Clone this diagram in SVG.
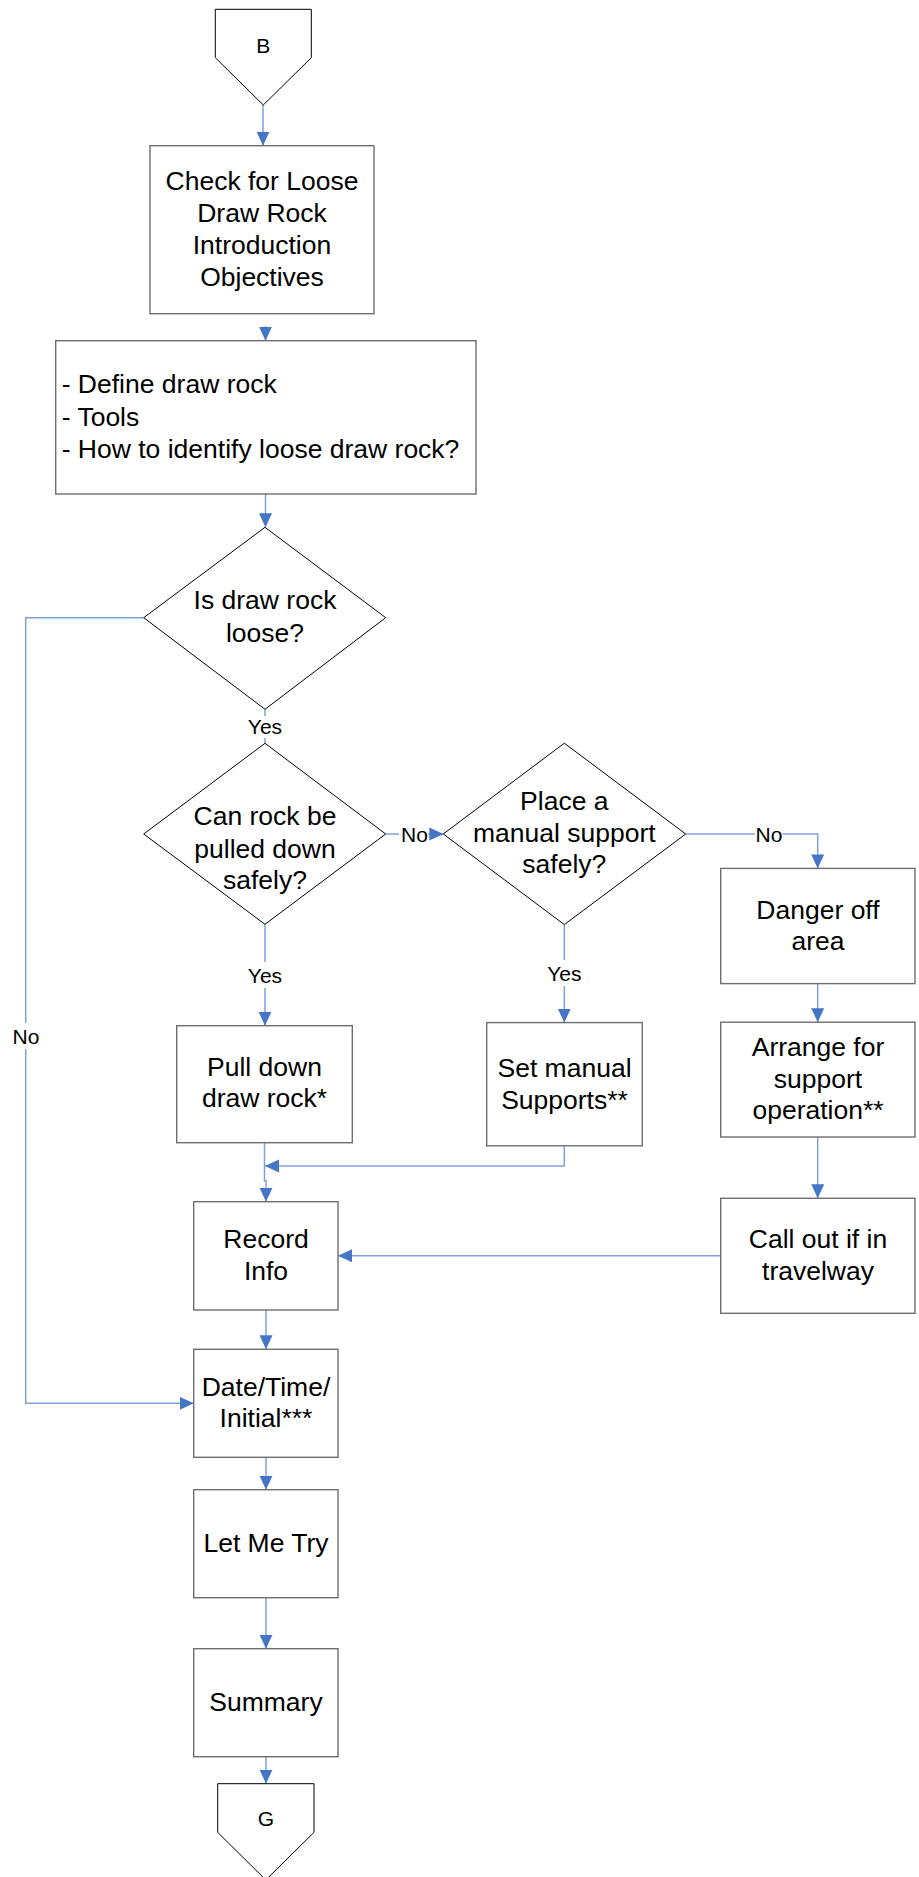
<svg xmlns="http://www.w3.org/2000/svg" width="919" height="1877" viewBox="0 0 919 1877">
<style>
.box{fill:#fff;stroke:#6e6e6e;stroke-width:1.4}
.dia{fill:#fff;stroke:#000;stroke-width:1}
.t{font-family:"Liberation Sans",Arial,sans-serif;font-size:26.5px;fill:#000;text-anchor:middle}
.tl{font-family:"Liberation Sans",Arial,sans-serif;font-size:26.5px;fill:#000}
.s{font-family:"Liberation Sans",Arial,sans-serif;font-size:21px;fill:#000;text-anchor:middle}
.c{fill:none;stroke:#7ea1d8;stroke-width:1.5}
.ca{fill:none;stroke:#7ea1d8;stroke-width:1.5;marker-end:url(#arr)}
</style>
<defs>
<marker id="arr" markerWidth="14" markerHeight="14" refX="14" refY="7" orient="auto" markerUnits="userSpaceOnUse">
<path d="M0,0.5 L14,7 L0,13.5 Z" fill="#4576c6"/>
</marker>
</defs>
<rect width="919" height="1877" fill="#fff"/>
<g id="connectors">
<path class="ca" d="M263,105 V145.7"/>
<path class="ca" d="M265.5,326 V340.7"/>
<path class="ca" d="M265.5,494 V527.3"/>
<path class="c" d="M265,709.3 V716"/>
<path class="c" d="M265,738 V743.3"/>
<path class="c" d="M143.7,617.7 H25.7 V1023"/>
<path class="ca" d="M25.7,1049 V1403.3 H193.7"/>
<path class="c" d="M385.7,834 H399"/>
<path class="ca" d="M428,834 H443.3"/>
<path class="c" d="M265,924.3 V962"/>
<path class="ca" d="M265,988 V1025.7"/>
<path class="c" d="M564.3,924.6 V960"/>
<path class="ca" d="M564.3,986 V1022.6"/>
<path class="c" d="M685.7,834 H755"/>
<path class="ca" d="M782.3,834 H817.7 V868.4"/>
<path class="ca" d="M817.7,983.6 V1022.2"/>
<path class="ca" d="M817.7,1137 V1198.3"/>
<path class="ca" d="M720.7,1255.7 H338"/>
<path class="ca" d="M264.5,1142.7 V1181 H266 V1201.7"/>
<path class="ca" d="M564.3,1145.8 V1166 H265"/>
<path class="ca" d="M266,1310 V1349.3"/>
<path class="ca" d="M266,1457.3 V1489.7"/>
<path class="ca" d="M266,1597.7 V1648.7"/>
<path class="ca" d="M266,1756.7 V1783.7"/>
<text class="s" x="265" y="734">Yes</text>
<text class="s" x="26" y="1043.5">No</text>
<text class="s" x="414.5" y="841.5">No</text>
<text class="s" x="265" y="982.5">Yes</text>
<text class="s" x="564.3" y="980.5">Yes</text>
<text class="s" x="769" y="841.5">No</text>
</g>
<g id="nodeB">
<polygon class="dia" points="215.3,9.3 311.3,9.3 311.3,57.7 263.3,105 215.3,57.7"/>
<text class="s" x="263.3" y="52.5">B</text>
</g>
<g id="nodeCheck">
<rect class="box" x="150" y="145.7" width="224" height="168"/>
<text class="t" x="262" y="190">Check for Loose</text>
<text class="t" x="262" y="222">Draw Rock</text>
<text class="t" x="262" y="254">Introduction</text>
<text class="t" x="262" y="286">Objectives</text>
</g>
<g id="nodeDefine">
<rect class="box" x="55.7" y="340.7" width="420.3" height="153.3"/>
<text class="tl" x="61.7" y="393.3">- Define draw rock</text>
<text class="tl" x="61.7" y="425.5">- Tools</text>
<text class="tl" x="61.7" y="457.5">- How to identify loose draw rock?</text>
</g>
<g id="nodeLoose">
<polygon class="dia" points="265,527.3 385.7,617.7 265,709.3 143.7,617.7"/>
<text class="t" x="265" y="609.3">Is draw rock</text>
<text class="t" x="265" y="641.7">loose?</text>
</g>
<g id="nodePull">
<polygon class="dia" points="265,743.3 385.7,834 265,924.3 143.7,834"/>
<text class="t" x="265" y="825">Can rock be</text>
<text class="t" x="265" y="857.5">pulled down</text>
<text class="t" x="265" y="889">safely?</text>
</g>
<g id="nodePlace">
<polygon class="dia" points="564.3,743.2 685.7,834 564.3,924.6 443.3,834"/>
<text class="t" x="564.3" y="810.2">Place a</text>
<text class="t" x="564.3" y="841.6">manual support</text>
<text class="t" x="564.3" y="873">safely?</text>
</g>
<g id="nodeDanger">
<rect class="box" x="720.7" y="868.4" width="194.3" height="115.2"/>
<text class="t" x="818" y="919">Danger off</text>
<text class="t" x="818" y="950">area</text>
</g>
<g id="nodeArrange">
<rect class="box" x="720.7" y="1022.2" width="194.3" height="114.8"/>
<text class="t" x="818" y="1056">Arrange for</text>
<text class="t" x="818" y="1087.5">support</text>
<text class="t" x="818" y="1119">operation**</text>
</g>
<g id="nodeCall">
<rect class="box" x="720.7" y="1198.3" width="194.3" height="115"/>
<text class="t" x="818" y="1248">Call out if in</text>
<text class="t" x="818" y="1279.5">travelway</text>
</g>
<g id="nodePullDown">
<rect class="box" x="176.7" y="1025.7" width="175.6" height="117"/>
<text class="t" x="264.5" y="1076">Pull down</text>
<text class="t" x="264.5" y="1107.3">draw rock*</text>
</g>
<g id="nodeSet">
<rect class="box" x="486.7" y="1022.6" width="155.6" height="123.2"/>
<text class="t" x="564.5" y="1077">Set manual</text>
<text class="t" x="564.5" y="1108.7">Supports**</text>
</g>
<g id="nodeRecord">
<rect class="box" x="193.7" y="1201.7" width="144.3" height="108.3"/>
<text class="t" x="266" y="1248.3">Record</text>
<text class="t" x="266" y="1280">Info</text>
</g>
<g id="nodeDate">
<rect class="box" x="193.7" y="1349.3" width="144.3" height="108"/>
<text class="t" x="266" y="1395.7">Date/Time/</text>
<text class="t" x="266" y="1427.3">Initial***</text>
</g>
<g id="nodeLet">
<rect class="box" x="193.7" y="1489.7" width="144.3" height="108"/>
<text class="t" x="266" y="1551.7">Let Me Try</text>
</g>
<g id="nodeSummary">
<rect class="box" x="193.7" y="1648.7" width="144.3" height="108"/>
<text class="t" x="266" y="1710.7">Summary</text>
</g>
<g id="nodeG">
<polygon class="dia" points="217.7,1783.7 314,1783.7 314,1832.3 265.8,1880 217.7,1832.3"/>
<text class="s" x="265.8" y="1826">G</text>
</g>
</svg>
